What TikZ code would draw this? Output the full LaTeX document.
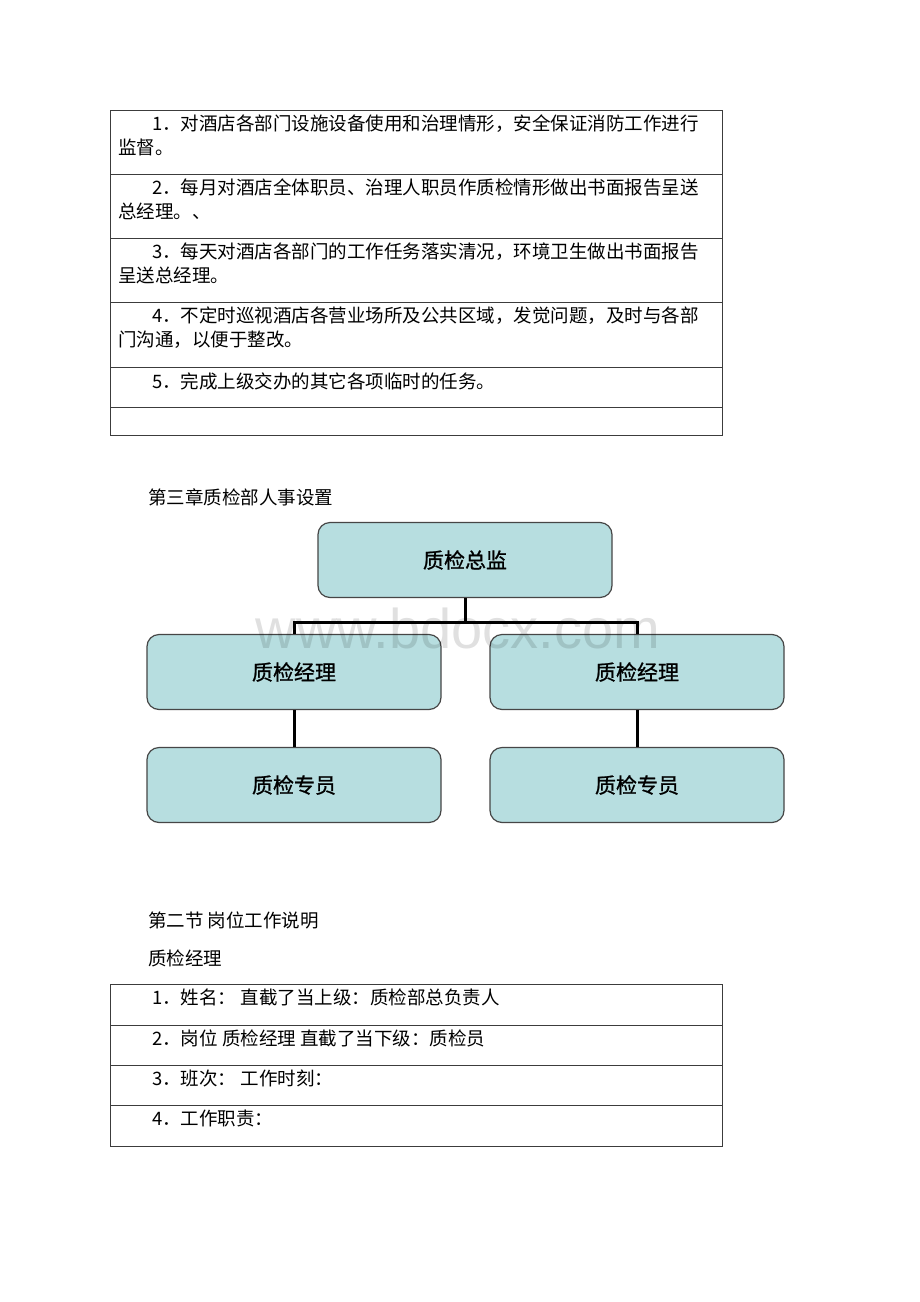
\documentclass[tikz,border=0pt]{standalone}
\usepackage{fontspec}
\usepackage{tikz}
\setmainfont{Noto Sans CJK SC}
\newfontfamily\boxfont[FakeBold=1]{Noto Sans CJK SC}
\newfontfamily\markfont{Liberation Sans}
\definecolor{boxfill}{RGB}{183,222,224}
\definecolor{boxline}{RGB}{70,70,70}
\definecolor{tabline}{RGB}{60,60,60}

\begin{document}
\begin{tikzpicture}[x=1pt,y=-1pt,
    post/.style={draw=boxline, line width=1.2pt, fill=boxfill, rounded corners=12pt,
      minimum width=294pt, minimum height=75pt, font=\boxfont\fontsize{21}{24}\selectfont},
    link/.style={line width=3pt},
    tab/.style={draw=tabline, line width=0.9pt},
    row/.style={anchor=west, align=left, inner sep=0pt, font=\fontsize{18.5}{24}\selectfont},
    txt/.style={anchor=west, inner sep=0pt, font=\fontsize{18.5}{24}\selectfont}]
          \fill[white] (0,0) rectangle (920,1302);
          \useasboundingbox (0,0) rectangle (920,1302);
          % first table
          \draw[tab] (110,110) rectangle (722,435);
          \foreach \y in {174,238,302,367,407}
            \draw[tab] (110,\y) -- (722,\y);
          \node[row] (d1) at (118,135) {\hspace*{34pt}1．对酒店各部门设施设备使用和治理情形，安全保证消防工作进行\\监督。};
          \node[row] (d2) at (118,199) {\hspace*{34pt}2．每月对酒店全体职员、治理人职员作质检情形做出书面报告呈送\\总经理。、};
          \node[row] (d3) at (118,263) {\hspace*{34pt}3．每天对酒店各部门的工作任务落实清况，环境卫生做出书面报告\\呈送总经理。};
          \node[row] (d4) at (118,328) {\hspace*{34pt}4．不定时巡视酒店各营业场所及公共区域，发觉问题，及时与各部\\门沟通，以便于整改。};
          \node[txt] (d5) at (152,381) {5．完成上级交办的其它各项临时的任务。};
          % org chart
          \node[txt] (ch) at (148,497) {第三章质检部人事设置};
          \node[post] (ZJ) at (465,560) {质检总监};
          \node[post] (JL1) at (294,672) {质检经理};
          \node[post] (JL2) at (637,672) {质检经理};
          \node[post] (ZY1) at (294,785) {质检专员};
          \node[post] (ZY2) at (637,785) {质检专员};
          \draw[link] (ZJ.south) -- ++(0,24) -| (JL1.north);
          \draw[link] (ZJ.south) -- ++(0,24) -| (JL2.north);
          \draw[link] (JL1) -- (ZY1);
          \draw[link] (JL2) -- (ZY2);
          \node[inner sep=0pt, font=\markfont\fontsize{56}{56}\selectfont, text=black, opacity=0.12] (wm) at (458,628) {www.bdocx.com};
          % second table
          \node[txt] (sec) at (148,920) {第二节 岗位工作说明};
          \node[txt] (jl) at (148,958) {质检经理};
          \draw[tab] (110,984) rectangle (722,1146);
          \foreach \y in {1025,1065,1105}
            \draw[tab] (110,\y) -- (722,\y);
          \node[txt] (g1) at (152,997) {1．姓名： 直截了当上级：质检部总负责人};
          \node[txt] (g2) at (152,1038) {2．岗位 质检经理 直截了当下级：质检员};
          \node[txt] (g3) at (152,1078) {3．班次： 工作时刻：};
          \node[txt] (g4) at (152,1118) {4．工作职责：};
        \end{tikzpicture}
\end{document}
